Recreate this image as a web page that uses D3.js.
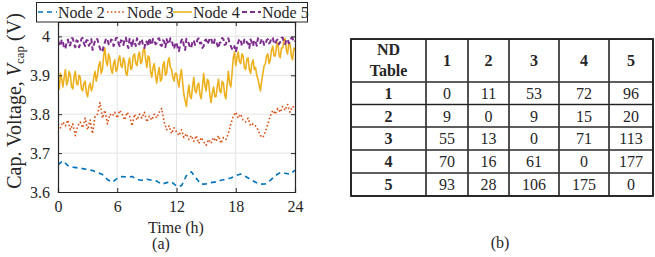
<!DOCTYPE html>
<html><head><meta charset="utf-8">
<script src="https://cdn.jsdelivr.net/npm/d3@7/dist/d3.min.js"></script>
<style>body{margin:0;background:#fff}svg{display:block}text{font-family:"Times New Roman",Times,"Liberation Serif",Tinos,serif;fill:#262626}</style>
</head><body>
<script>
// ---------- DATA ----------
const seriesNames = ["Node 2","Node 3","Node 4","Node 5"];
const xTicks = [0,6,12,18,24];
const yTicks = [3.6,3.7,3.8,3.9,4.0];
const yTickLabels = ["3.6","3.7","3.8","3.9","4"];
// Node 2 sampled every 0.5 h
const node2 = [3.670,3.680,3.668,3.664,3.662,3.660,3.658,3.655,3.650,3.645,3.632,3.625,3.635,3.640,3.638,3.640,3.632,3.630,3.633,3.630,3.628,3.620,3.624,3.626,3.615,3.616,3.642,3.652,3.635,3.620,3.621,3.624,3.626,3.630,3.633,3.636,3.642,3.646,3.640,3.632,3.625,3.620,3.621,3.630,3.642,3.650,3.648,3.646,3.656];
// Node 3 sampled every 0.25 h
const node3 = [3.775,3.765,3.780,3.770,3.785,3.760,3.775,3.745,
  3.770,3.780,3.765,3.790,3.760,3.785,3.750,3.795,
  3.800,3.830,3.790,3.810,3.775,3.800,3.795,3.805,
  3.790,3.810,3.800,3.785,3.805,3.795,3.770,3.800,
  3.785,3.800,3.790,3.805,3.780,3.795,3.785,3.800,
  3.790,3.805,3.815,3.780,3.760,3.770,3.750,3.765,
  3.755,3.745,3.760,3.740,3.750,3.735,3.745,3.730,
  3.745,3.725,3.740,3.730,3.720,3.735,3.725,3.740,
  3.730,3.745,3.725,3.740,3.735,3.750,3.775,3.795,
  3.805,3.790,3.800,3.785,3.780,3.790,3.770,3.775,
  3.770,3.760,3.745,3.740,3.755,3.775,3.795,3.810,
  3.800,3.815,3.805,3.820,3.810,3.825,3.805,3.820,
  3.815];
// Nodes 4 and 5 sampled every 0.125 h
const node4 = [
  3.880,3.865,3.905,3.890,3.870,3.895,3.915,3.875,3.885,3.910,3.900,3.870,3.865,3.895,3.910,3.880,
  3.875,3.900,3.895,3.865,3.860,3.880,3.885,3.855,3.845,3.870,3.880,3.860,3.870,3.895,3.910,3.885,
  3.900,3.925,3.935,3.905,3.915,3.950,3.970,3.935,3.925,3.955,3.945,3.915,3.905,3.930,3.940,3.910,
  3.915,3.940,3.950,3.925,3.920,3.945,3.935,3.905,3.900,3.930,3.945,3.915,3.920,3.950,3.955,3.930,
  3.925,3.950,3.960,3.930,3.935,3.965,3.970,3.940,3.920,3.950,3.945,3.910,3.895,3.920,3.930,3.900,
  3.880,3.905,3.920,3.885,3.890,3.925,3.935,3.900,3.905,3.935,3.945,3.920,3.915,3.895,3.885,3.905,
  3.905,3.885,3.870,3.900,3.915,3.880,3.850,3.835,3.820,3.850,3.875,3.845,3.840,3.870,3.895,3.860,
  3.855,3.875,3.880,3.850,3.840,3.870,3.905,3.875,3.860,3.890,3.885,3.850,3.830,3.855,3.870,3.845,
  3.845,3.870,3.890,3.860,3.855,3.885,3.880,3.850,3.840,3.875,3.910,3.880,3.870,3.905,3.945,3.960,
  3.925,3.945,3.960,3.935,3.930,3.955,3.950,3.920,3.915,3.940,3.945,3.915,3.905,3.930,3.940,3.915,
  3.920,3.900,3.890,3.875,3.860,3.885,3.905,3.925,3.930,3.950,3.955,3.930,3.940,3.965,3.975,3.950,
  3.950,3.975,3.985,3.955,3.945,3.970,3.970,3.990,3.995,3.965,3.955,3.985,3.980,3.950,3.940,3.970,
  3.965];
const node5 = [
  3.990,3.980,3.975,3.992,3.985,3.970,3.968,3.985,3.992,3.975,3.978,3.995,3.995,3.980,3.972,3.990,
  3.988,3.972,3.980,3.994,3.996,3.982,3.975,3.990,3.990,3.976,3.982,3.993,3.965,3.978,3.988,3.995,
  3.992,3.978,3.970,3.962,3.960,3.975,3.985,3.995,3.993,3.980,3.978,3.992,3.990,3.975,3.983,3.996,
  3.996,3.982,3.975,3.990,3.988,3.978,3.992,3.997,3.980,3.970,3.994,3.985,3.972,3.990,3.987,3.975,
  3.995,3.982,3.980,3.993,3.990,3.976,3.970,3.988,3.986,3.974,3.996,3.985,3.978,3.994,3.990,3.980,
  3.983,3.994,3.995,3.978,3.975,3.990,3.988,3.972,3.993,3.984,3.980,3.995,3.992,3.978,3.968,3.980,
  3.985,3.970,3.962,3.980,3.990,3.994,3.976,3.965,3.994,3.985,3.982,3.970,3.972,3.988,3.990,3.978,
  3.980,3.992,3.995,3.982,3.984,3.970,3.975,3.990,3.992,3.980,3.986,3.996,3.996,3.983,3.978,3.992,
  3.990,3.978,3.970,3.984,3.985,3.996,3.993,3.978,3.980,3.992,3.995,3.982,3.975,3.968,3.965,3.975,
  3.960,3.972,3.985,3.994,3.990,3.976,3.978,3.992,3.994,3.984,3.982,3.970,3.992,3.985,3.975,3.990,
  3.988,3.976,3.995,3.985,3.983,3.994,3.990,3.978,3.978,3.990,3.993,3.982,3.986,3.997,3.996,3.983,
  3.980,3.990,3.992,3.980,3.985,3.996,3.997,3.984,3.980,3.992,3.993,3.982,3.987,3.996,3.996,3.985,
  3.988];
// Table data
const tableColLabels = ["1","2","3","4","5"];
const tableRowLabels = ["1","2","3","4","5"];
const ndTable = [
  [0,11,53,72,96],
  [9,0,9,15,20],
  [55,13,0,71,113],
  [70,16,61,0,177],
  [93,28,106,175,0]
];

// ---------- CHART ----------
const FONT = '"Times New Roman",Times,"Liberation Serif",Tinos,serif';
const svg = d3.select("body").append("svg").attr("width",655).attr("height",257);
const L=58,R=295,T=22,B=192;
const x = d3.scaleLinear().domain([0,24]).range([L,R]);
const y = d3.scaleLinear().domain([3.6,4.037]).range([B,T]);

// grid
const g = svg.append("g");
g.selectAll(".gx").data(xTicks.slice(1,-1)).join("line")
  .attr("x1",d=>x(d)).attr("x2",d=>x(d)).attr("y1",T).attr("y2",B)
  .attr("stroke","#e3e3e3").attr("stroke-width",1);
g.selectAll(".gy").data(yTicks.slice(1)).join("line")
  .attr("x1",L).attr("x2",R).attr("y1",d=>y(d)).attr("y2",d=>y(d))
  .attr("stroke","#e3e3e3").attr("stroke-width",1);

svg.append("clipPath").attr("id","clip").append("rect").attr("x",L).attr("y",T).attr("width",R-L).attr("height",B-T);

const series = [
  {name:"Node 2", vals:node2, step:0.5, color:"#0072BD", dash:"5,4", w:1.6},
  {name:"Node 3", vals:node3, step:0.25, color:"#D95319", dash:"1.6,2.2", w:1.6},
  {name:"Node 4", vals:node4, step:0.125, color:"#EDB120", dash:null, w:1.6},
  {name:"Node 5", vals:node5, step:0.125, color:"#7E2F8E", dash:"5,3", w:2}
];
const line = d3.line().x(d=>x(d[0])).y(d=>y(d[1]));
const pl = svg.append("g").attr("clip-path","url(#clip)");
series.forEach(s=>{
  const pts = s.vals.map((v,i)=>[i*s.step,v]);
  pl.append("path").datum(pts).attr("d",line).attr("fill","none")
    .attr("stroke",s.color).attr("stroke-width",s.w)
    .attr("stroke-dasharray",s.dash).attr("stroke-linejoin","round");
});

// axes (MATLAB-like box with inward ticks)
const axc="#262626";
const yAxL = d3.axisLeft(y).tickValues(yTicks).tickSize(-4).tickFormat((d,i)=>yTickLabels[i]).tickPadding(8);
const yAxR = d3.axisRight(y).tickValues(yTicks).tickSize(-4).tickFormat("");
const xAxB = d3.axisBottom(x).tickValues(xTicks).tickSize(-4).tickPadding(9);
const xAxT = d3.axisTop(x).tickValues(xTicks).tickSize(-4).tickFormat("");
[[yAxL,`translate(${L},0)`],[yAxR,`translate(${R},0)`],[xAxB,`translate(0,${B})`],[xAxT,`translate(0,${T})`]].forEach(([a,tr])=>{
  const ag = svg.append("g").attr("transform",tr).call(a).attr("font-family",FONT);
  ag.select(".domain").attr("stroke",axc).attr("stroke-width",1.2);
  ag.selectAll(".tick line").attr("stroke",axc).attr("stroke-width",1);
  ag.selectAll("text").attr("font-size",16).attr("fill",axc).style("font-family",FONT);
});

// axis labels
const yl = svg.append("text").attr("transform","translate(21,101) rotate(-90)")
  .attr("text-anchor","middle").attr("font-size",20).attr("fill","#404040");
yl.append("tspan").text("Cap. Voltage, ");
yl.append("tspan").attr("font-style","italic").text("V");
yl.append("tspan").attr("font-size",13).attr("dy",3).text("cap");
yl.append("tspan").attr("dy",-3).text(" (V)");
svg.append("text").attr("x",176).attr("y",233).attr("text-anchor","middle").attr("font-size",16).text("Time (h)");
svg.append("text").attr("x",161).attr("y",249).attr("text-anchor","middle").attr("font-size",16).text("(a)");

// legend
const lg = svg.append("g");
lg.append("rect").attr("x",36.5).attr("y",2.5).attr("width",271).attr("height",19.5)
  .attr("fill","#fff").attr("stroke",axc).attr("stroke-width",1);
const legX = [38,107,173,242];
series.forEach((s,i)=>{
  lg.append("line").attr("x1",legX[i]).attr("x2",legX[i]+19).attr("y1",12).attr("y2",12)
    .attr("stroke",s.color).attr("stroke-width",s.w).attr("stroke-dasharray",s.dash);
  lg.append("text").attr("x",legX[i]+20).attr("y",17.5).attr("font-size",16).text(seriesNames[i]);
});

// ---------- TABLE ----------
const colEdges = [351,426,468,509,559,609,653];
const rowEdges = [39,82,104.5,127,150,173,196];
const tg = svg.append("g");
for(let r=0;r<6;r++)for(let c=0;c<6;c++){
  tg.append("rect").attr("x",colEdges[c]+0.5).attr("y",rowEdges[r]+0.5)
    .attr("width",colEdges[c+1]-colEdges[c]-1).attr("height",rowEdges[r+1]-rowEdges[r]-1)
    .attr("fill","none").attr("stroke","#9a9a9a").attr("stroke-width",1);
}
colEdges.forEach(cx=>tg.append("line").attr("x1",cx).attr("x2",cx).attr("y1",rowEdges[0]).attr("y2",rowEdges[6]).attr("stroke","#222").attr("stroke-width",1.2));
rowEdges.forEach(ry=>tg.append("line").attr("x1",colEdges[0]).attr("x2",colEdges[6]).attr("y1",ry).attr("y2",ry).attr("stroke","#222").attr("stroke-width",1.2));
tg.append("rect").attr("x",colEdges[0]).attr("y",rowEdges[0]).attr("width",colEdges[6]-colEdges[0]).attr("height",rowEdges[6]-rowEdges[0])
  .attr("fill","none").attr("stroke","#222").attr("stroke-width",1.8);
const cc = i=>(colEdges[i]+colEdges[i+1])/2;
tg.append("text").attr("x",cc(0)).attr("y",55).attr("text-anchor","middle").attr("font-size",16).attr("font-weight","bold").attr("fill","#111").text("ND");
tg.append("text").attr("x",cc(0)).attr("y",76).attr("text-anchor","middle").attr("font-size",16).attr("font-weight","bold").attr("fill","#111").text("Table");
tableColLabels.forEach((t,i)=>tg.append("text").attr("x",cc(i+1)).attr("y",66).attr("text-anchor","middle").attr("font-size",16).attr("font-weight","bold").attr("fill","#111").text(t));
tableRowLabels.forEach((t,r)=>{
  const by = rowEdges[r+1]+17;
  tg.append("text").attr("x",cc(0)).attr("y",by).attr("text-anchor","middle").attr("font-size",16).attr("font-weight","bold").attr("fill","#111").text(t);
  ndTable[r].forEach((v,c)=>tg.append("text").attr("x",cc(c+1)).attr("y",by).attr("text-anchor","middle").attr("font-size",16).attr("fill","#111").text(v));
});
svg.append("text").attr("x",500).attr("y",248).attr("text-anchor","middle").attr("font-size",16).text("(b)");
</script>
</body></html>
